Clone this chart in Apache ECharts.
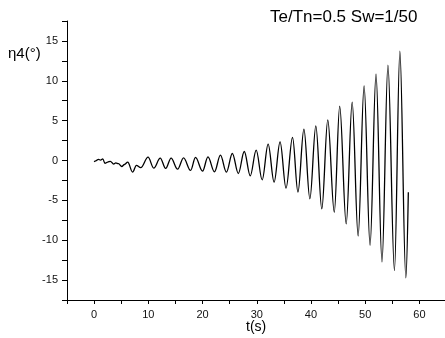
<!DOCTYPE html>
<html>
<head>
<meta charset="utf-8">
<script src="https://cdn.jsdelivr.net/npm/echarts@6/dist/echarts.min.js"></script>
<style>
html,body{margin:0;padding:0;background:#fff;}
#chart{width:445px;height:338px;}
</style>
</head>
<body>
<div id="chart"></div>
<script>
// Time (s) of read-off points (extrema of the roll record)
var timeS = [0, 0.3, 0.8, 1.2, 1.6, 2.0, 2.5, 3.0, 3.6, 4.0, 4.5, 5.1, 5.6, 6.2, 7.1, 7.8, 8.6,
  9.95, 11.0, 12.2, 13.2, 14.2, 15.4, 16.5, 17.8, 18.7, 20.0, 21.0, 22.2, 23.3, 24.4, 25.5,
  26.6, 27.7, 28.8, 29.9, 31.0, 32.1, 33.2, 34.3, 35.4, 36.6, 37.6, 38.7, 39.8, 40.9, 42.0,
  43.1, 44.3, 45.3, 46.5, 47.6, 48.7, 49.8, 50.9, 52.0, 53.1, 54.2, 55.4, 56.4, 57.5, 57.96];
// Roll angle η4 (deg)
var rollDeg = [-0.15, -0.05, 0.15, 0.05, 0.2, -0.35, -0.2, -0.1, -0.45, -0.3, -0.4, -0.75, -0.5, -0.2, -1.45, -0.6, -0.9,
  0.42, -0.96, 0.3, -1.0, 0.3, -1.09, 0.33, -1.25, 0.38, -1.34, 0.46, -1.42, 0.67, -1.46, 0.88,
  -1.63, 1.13, -1.92, 1.3, -2.43, 2.05, -2.72, 2.34, -3.47, 2.9, -3.97, 3.93, -4.81, 4.35, -6.07,
  5.1, -6.49, 6.82, -7.95, 7.32, -9.46, 9.37, -10.63, 10.84, -12.72, 11.97, -13.81, 13.72, -14.73, -3.97];
var xTickLabels = [0, 10, 20, 30, 40, 50, 60];
var yTickLabels = [-15, -10, -5, 0, 5, 10, 15];
var titleText = 'Te/Tn=0.5 Sw=1/50';
var xName = 't(s)';
var yName = 'η4(°)';

var data = timeS.map(function (t, i) { return [t, rollDeg[i]]; });
var font = 'Arial, "Liberation Sans", sans-serif';

var chart = echarts.init(document.getElementById('chart'), null, {renderer: 'canvas'});
chart.setOption({
  animation: false,
  backgroundColor: '#fff',
  grid: {left: 67, top: 21, right: -1.5, bottom: 38, containLabel: false, outerBoundsMode: 'none'},
  graphic: [
    {type: 'text', left: 270, top: 9, style: {text: titleText, font: '17px ' + font, fill: '#000'}},
    {type: 'text', left: 8, top: 46, style: {text: yName, font: '15px ' + font, fill: '#000'}},
    {type: 'text', left: 246, top: 320, style: {text: xName, font: '14px ' + font, fill: '#000'}}
  ],
  xAxis: {
    type: 'value', min: -5, max: 65, interval: 5,
    axisLine: {show: true, onZero: false, lineStyle: {color: '#000', width: 1}},
    axisTick: {show: true, inside: false, length: 4, lineStyle: {color: '#000'}},
    axisLabel: {
      margin: 9, fontFamily: font, fontSize: 11, color: '#111',
      showMinLabel: true, showMaxLabel: true,
      formatter: function (v) { return xTickLabels.indexOf(Math.round(v * 100) / 100) >= 0 ? String(v) : ''; }
    },
    splitLine: {show: false}
  },
  yAxis: {
    type: 'value', min: -17.5, max: 17.5, interval: 2.5,
    axisLine: {show: true, onZero: false, lineStyle: {color: '#000', width: 1}},
    axisTick: {show: true, inside: false, length: 5, lineStyle: {color: '#000'}},
    axisLabel: {
      margin: 9, fontFamily: font, fontSize: 11, color: '#111',
      formatter: function (v) { return yTickLabels.indexOf(Math.round(v * 100) / 100) >= 0 ? String(v) : ''; }
    },
    splitLine: {show: false}
  },
  series: [{
    type: 'line', data: data, showSymbol: false, symbol: 'none',
    smooth: 0.36, smoothMonotone: 'x',
    lineStyle: {color: '#000', width: 1.3},
    clip: false
  }]
});
</script>
</body>
</html>
